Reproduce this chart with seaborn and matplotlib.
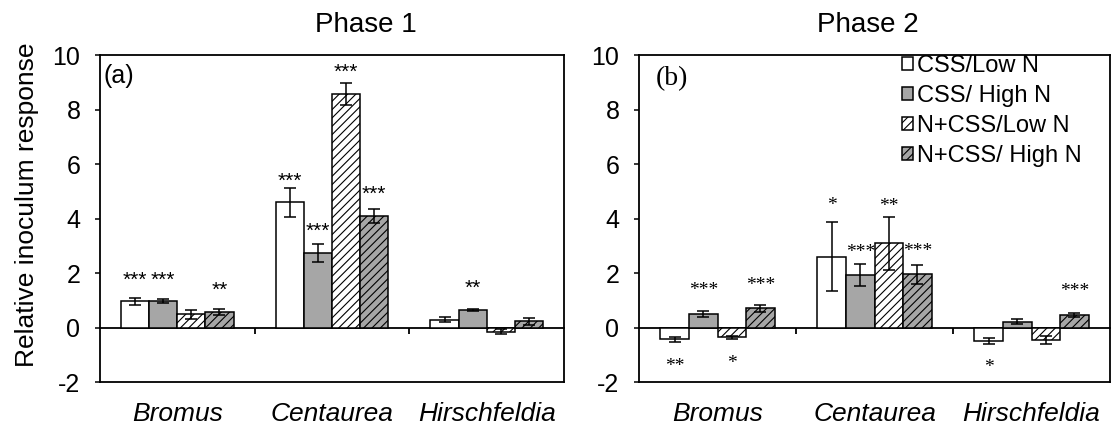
import pandas as pd
import matplotlib
matplotlib.use("Agg")
import matplotlib.pyplot as plt
import matplotlib.transforms as mtransforms
import seaborn as sns

species = ["Bromus", "Centaurea", "Hirschfeldia"]
treatments = ["CSS/Low N", "CSS/ High N", "N+CSS/Low N", "N+CSS/ High N"]
bar_colors = ["white", "#A6A6A6", "white", "#A6A6A6"]
hatches = ["", "", "////", "////"]

# one row per treatment, one column per species
phase1_mean = [[0.96, 4.60, 0.28], [0.98, 2.74, 0.64], [0.49, 8.56, -0.15], [0.56, 4.09, 0.23]]
phase1_se = [[0.13, 0.53, 0.09], [0.08, 0.34, 0.04], [0.17, 0.40, 0.09], [0.11, 0.27, 0.13]]
phase2_mean = [[-0.43, 2.60, -0.49], [0.50, 1.92, 0.22], [-0.36, 3.09, -0.46], [0.70, 1.96, 0.47]]
phase2_se = [[0.09, 1.27, 0.12], [0.10, 0.40, 0.10], [0.05, 0.98, 0.15], [0.13, 0.35, 0.08]]

# significance marks and where they sit
phase1_stars = [["***", "***", ""], ["***", "***", "**"], ["", "***", ""], ["**", "***", ""]]
phase1_star_y = [[1.96, 5.6, 0], [1.96, 3.75, 1.66], [0, 9.57, 0], [1.57, 5.1, 0]]
phase2_stars = [["**", "*", "*"], ["***", "***", ""], ["*", "**", ""], ["***", "***", "***"]]
phase2_star_y = [[-1.23, 4.65, -1.29], [1.54, 2.93, 0], [-1.13, 4.61, 0], [1.72, 2.96, 1.49]]


def make_frame(means):
    rows = []
    for t, vals in zip(treatments, means):
        for s, v in zip(species, vals):
            rows.append({"species": s, "treatment": t, "value": v})
    return pd.DataFrame(rows)


def draw_panel(ax, means, ses, stars, star_y, star_font, star_size, star_shift):
    df = make_frame(means)
    sns.barplot(data=df, x="species", y="value", hue="treatment", order=species,
                hue_order=treatments, palette=bar_colors, saturation=1,
                edgecolor="black", linewidth=1.1, width=0.727, gap=0,
                errorbar=None, legend=False, ax=ax)
    star_trans = mtransforms.offset_copy(ax.transData, fig=ax.figure, y=star_shift, units="dots")
    bar_groups = list(ax.containers)
    for i, cont in enumerate(bar_groups):
        xs = []
        for bar in cont.patches:
            bar.set_hatch(hatches[i])
            xs.append(bar.get_x() + bar.get_width() / 2)
        ax.errorbar(xs, means[i], yerr=ses[i], fmt="none", ecolor="black",
                    elinewidth=1.1, capsize=4.3, capthick=1.1)
        for j, x in enumerate(xs):
            if stars[i][j]:
                ax.text(x, star_y[i][j], stars[i][j], ha="center", va="center",
                        fontsize=star_size, family=star_font, transform=star_trans)

    ax.set_ylim(-2, 10)
    ax.set_xlim(-0.5, 2.5)
    ax.set_yticks([-2, 0, 2, 4, 6, 8, 10])
    ax.set_xlabel("")
    ax.set_ylabel("")
    ax.tick_params(axis="y", direction="out", length=3.6, width=1.1, pad=10.5, labelsize=18)
    ax.tick_params(axis="x", length=0, pad=14.5, labelsize=19)
    for lbl in ax.get_xticklabels():
        lbl.set_fontstyle("italic")
    for sp in ax.spines.values():
        sp.set_visible(True)
        sp.set_color("black")
        sp.set_linewidth(1.3)

    # zero line with the separators between species
    zero = ax.secondary_xaxis((0 - (-2)) / 12)
    zero.set_xticks([0.5, 1.5])
    zero.set_xticklabels(["", ""])
    zero.tick_params(axis="x", direction="out", length=4, width=1.3)
    zero.spines["bottom"].set_linewidth(1.3)
    zero.spines["bottom"].set_color("black")
    return bar_groups


sns.set_style("ticks")
plt.rcParams["font.family"] = ["Liberation Sans", "DejaVu Sans"]
plt.rcParams["axes.unicode_minus"] = False
plt.rcParams["text.color"] = "black"
plt.rcParams["axes.labelcolor"] = "black"
plt.rcParams["xtick.color"] = "black"
plt.rcParams["ytick.color"] = "black"
plt.rcParams["hatch.linewidth"] = 0.8

fig = plt.figure(figsize=(11.11, 4.28), dpi=100)
ax1 = fig.add_axes([100 / 1111, 1 - 382 / 428, 464 / 1111, 327 / 428])
ax2 = fig.add_axes([639 / 1111, 1 - 382 / 428, 471 / 1111, 327 / 428])

draw_panel(ax1, phase1_mean, phase1_se, phase1_stars, phase1_star_y,
           ["Liberation Sans", "DejaVu Sans"], 15, -6)
groups2 = draw_panel(ax2, phase2_mean, phase2_se, phase2_stars, phase2_star_y,
                     ["Liberation Serif", "DejaVu Serif"], 14, -5)

ax1.set_ylabel("Relative inoculum response", fontsize=19)
ax1.yaxis.set_label_coords(-0.1325, 0.541)

ax1.text(0.008, 0.914, "(a)", transform=ax1.transAxes, fontsize=18, va="baseline")
ax2.text(0.036, 0.908, "(b)", transform=ax2.transAxes, fontsize=20, va="baseline",
         family=["Liberation Serif", "DejaVu Serif"])

fig.text(366 / 1111, 1 - 32 / 428, "Phase 1", ha="center", va="baseline", fontsize=20)
fig.text(868 / 1111, 1 - 32 / 428, "Phase 2", ha="center", va="baseline", fontsize=20)

handles = [cont.patches[0] for cont in groups2]
ax2.legend(handles, treatments, loc="upper left", bbox_to_anchor=(0.558, 1.0),
           frameon=False, fontsize=17, borderpad=0, borderaxespad=0,
           handlelength=0.47, handleheight=0.47, handletextpad=0.17, labelspacing=0.34)

fig.savefig("out.png", dpi=100)
